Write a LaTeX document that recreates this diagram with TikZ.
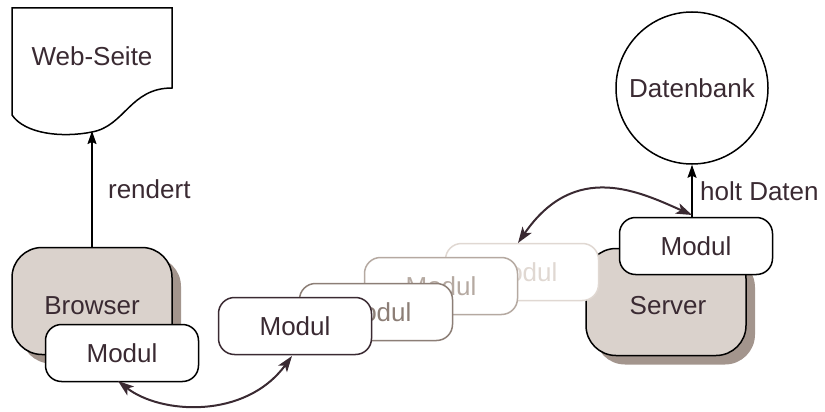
\documentclass[tikz,border=0pt]{standalone}
\usepackage{fontspec}
\setmainfont{Liberation Sans}
\usetikzlibrary{arrows.meta,shadows}
\definecolor{ink}{HTML}{3A2A32}
\definecolor{boxfill}{HTML}{DAD2CC}
\definecolor{shade}{HTML}{A3958D}
\definecolor{fadeA}{HTML}{8C7E76}
\definecolor{fadeB}{HTML}{B5A9A1}
\definecolor{fadeC}{HTML}{E0D8D2}
\begin{document}
\begin{tikzpicture}[x=1pt,y=-1pt,
  every node/.style={font=\fontsize{26}{30}\selectfont, text=ink},
  host/.style={draw=black, line width=1.5pt, fill=boxfill, rounded corners=30pt,
    minimum width=160pt, minimum height=107pt, inner sep=0pt,
    drop shadow={shadow xshift=9pt, shadow yshift=-9pt, fill=shade, opacity=1}},
  modul/.style={draw=#1, line width=1.5pt, fill=white, rounded corners=16pt,
    minimum width=153pt, minimum height=57pt, inner sep=0pt},
  flow/.style={line width=1.6pt, -{Stealth[length=13pt,width=9pt,inset=2pt]}},
  swap/.style={draw=ink, line width=2pt,
    {Stealth[length=16pt,width=11pt,inset=4pt]}-{Stealth[length=16pt,width=11pt,inset=4pt]}}]
\useasboundingbox (0,0) rectangle (825,412);

% printed page
\draw[line width=1.5pt] (12,115) -- (12,8) -- (172,8) -- (172,88)
  .. controls (130,88) and (125,126) .. (92,132)
  .. controls (62,138) and (25,134) .. (12,115);
\node (web) at (92,56) {Web-Seite};
\coordinate (webbottom) at (92,131);

% database
\node[draw=black, line width=1.5pt, circle, minimum size=152pt, inner sep=0pt] (db) at (692,88) {Datenbank};

% browser side
\node[host] (browser) at (92,301) {};
\node at (92,306) {Browser};
\node[modul=black] (bmod) at (122,353) {Modul};

% server side
\node[host] (server) at (666,302) {};
\node at (668,306) {Server};

% module in transit, fading trail
\node[modul=fadeC, text=fadeC] (m4) at (522,272) {Modul};
\node[modul=fadeB, text=fadeB] (m3) at (441,286) {Modul};
\node[modul=fadeA, text=fadeA] (m2) at (376,312) {Modul};
\node[modul=ink] (m1) at (295,326) {Modul};

\node[modul=black] (smod) at (696,246) {Modul};

% connectors
\draw[flow] (browser.north) -- (webbottom) node[midway, right=12pt] {rendert};
\draw[flow] (smod.north -| db.south) -- (db.south) node[midway, right=4pt] {holt Daten};
\coordinate (bmodtip) at (118,381);
\coordinate (m1tip) at (292,356);
\draw[swap] (bmodtip) .. controls (160,414) and (245,420) .. (m1tip);
\coordinate (smodtip) at (692,215);
\coordinate (m4tip) at (518,243);
\draw[swap] (smodtip) .. controls (640,192) and (575,160) .. (m4tip);
\end{tikzpicture}
\end{document}
